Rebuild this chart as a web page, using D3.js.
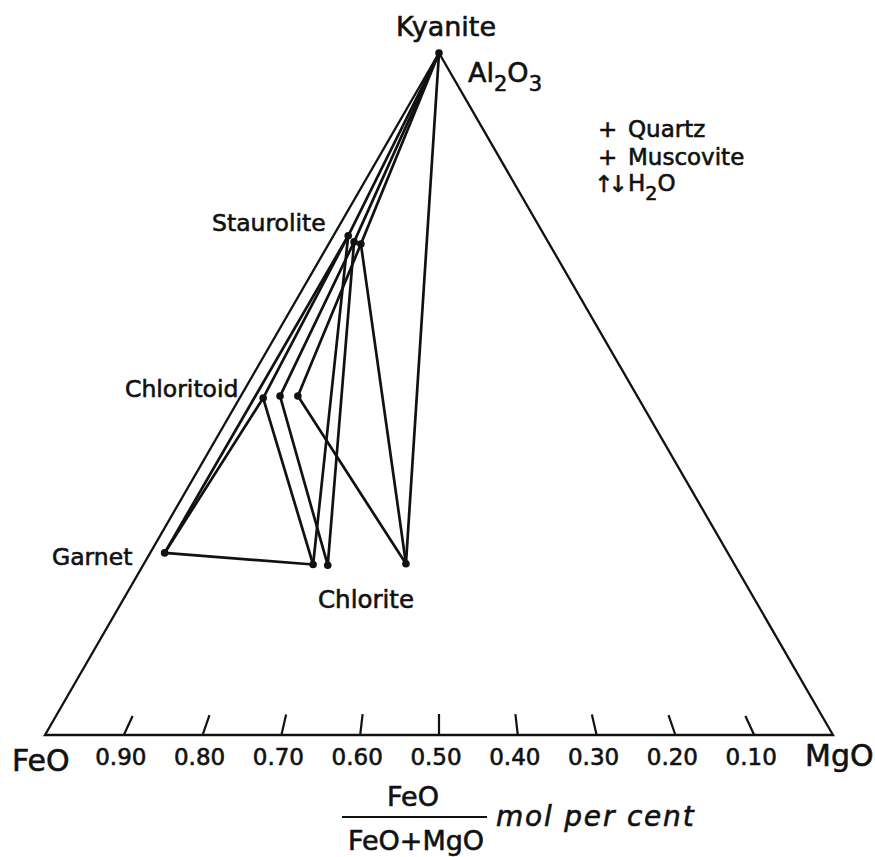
<!DOCTYPE html>
<html>
<head>
<meta charset="utf-8">
<script src="https://cdn.jsdelivr.net/npm/d3@7"></script>
<style>
  html, body { margin: 0; padding: 0; background: #fff; }
  svg { display: block; }
  text { font-family: "DejaVu Sans", sans-serif; fill: #111; stroke: #111; stroke-width: 0.6px; }
</style>
</head>
<body>
<svg id="chart" width="875" height="857"></svg>
<script>
// AFM projection: FeO/(FeO+MgO) along the base, Al2O3 towards the apex
const phases   = ["Ky", "Grt", "St1", "St2", "St3", "Ctd1", "Ctd2", "Ctd3", "Chl1", "Chl2", "Chl3"];
const feRatio  = [0.50, 0.975, 0.930, 0.889, 0.854, 0.941, 0.901, 0.856, 0.713, 0.688, 0.556];
const alFrac   = [1.00, 0.267, 0.732, 0.723, 0.720, 0.494, 0.497, 0.497, 0.250, 0.249, 0.251];

// tie lines between coexisting phases
const tieFrom = ["Ky",  "Ky",  "Ky",  "Ky",   "Grt",  "Grt", "Grt",  "Ctd1", "Ctd1", "St1",  "Ctd2", "Ctd2", "St2",  "Ctd3", "Ctd3", "St3"];
const tieTo   = ["St1", "St2", "St3", "Chl3", "Ctd1", "St1", "Chl1", "St1",  "Chl1", "Chl1", "St2",  "Chl2", "Chl2", "St3",  "Chl3", "Chl3"];

const tickValues = [0.90, 0.80, 0.70, 0.60, 0.50, 0.40, 0.30, 0.20, 0.10];
const tickLabels = ["0.90", "0.80", "0.70", "0.60", "0.50", "0.40", "0.30", "0.20", "0.10"];

const svg = d3.select("#chart");

const x = d3.scaleLinear().domain([1, 0]).range([45, 833]);   // FeO/(FeO+MgO) on the base
const y = d3.scaleLinear().domain([0, 1]).range([735, 53]);   // Al2O3 fraction
const apexX = x(0.5);

// projected position of a composition
function pos(r, a) {
  return [apexX + (1 - a) * (x(r) - apexX), y(a)];
}

const pts = {};
phases.forEach((p, i) => { pts[p] = pos(feRatio[i], alFrac[i]); });

// triangle outline
const corners = [pos(1, 0), pos(0.5, 1), pos(0, 0)];
svg.append("path")
  .attr("d", d3.line()(corners) + "Z")
  .attr("fill", "none").attr("stroke", "#111").attr("stroke-width", 2.3)
  .attr("stroke-linejoin", "miter");

// ticks on the base, pointing at the apex
const tickLen = 21;
function tickEnd(d) {
  const dx = apexX - x(d), dy = y(1) - y(0), L = Math.hypot(dx, dy);
  return [x(d) + dx / L * tickLen, y(0) + dy / L * tickLen];
}
svg.selectAll("line.tick").data(tickValues).join("line")
  .attr("class", "tick")
  .attr("x1", d => x(d)).attr("y1", y(0))
  .attr("x2", d => tickEnd(d)[0]).attr("y2", d => tickEnd(d)[1])
  .attr("stroke", "#111").attr("stroke-width", 2.2);

svg.selectAll("text.ticklab").data(tickValues).join("text")
  .attr("class", "ticklab")
  .attr("x", d => x(d) - 3).attr("y", 765)
  .attr("text-anchor", "middle").attr("font-size", 23)
  .text((d, i) => tickLabels[i]);

// tie lines
svg.selectAll("line.tie").data(tieFrom.map((f, i) => [f, tieTo[i]])).join("line")
  .attr("class", "tie")
  .attr("x1", d => pts[d[0]][0]).attr("y1", d => pts[d[0]][1])
  .attr("x2", d => pts[d[1]][0]).attr("y2", d => pts[d[1]][1])
  .attr("stroke", "#111").attr("stroke-width", 2.7).attr("stroke-linecap", "round");

// phase compositions
svg.selectAll("circle.phase").data(phases).join("circle")
  .attr("class", "phase")
  .attr("cx", d => pts[d][0]).attr("cy", d => pts[d][1])
  .attr("r", 3.8).attr("fill", "#111");

// phase names
const lab = svg.append("g").attr("font-size", 23.5);
lab.append("text").attr("x", 446).attr("y", 36).attr("text-anchor", "middle").attr("font-size", 27).text("Kyanite");
lab.append("text").attr("x", 212).attr("y", 231).text("Staurolite");
lab.append("text").attr("x", 125).attr("y", 397).text("Chloritoid");
lab.append("text").attr("x", 52).attr("y", 565).text("Garnet");
lab.append("text").attr("x", 318).attr("y", 608).attr("font-size", 24.5).text("Chlorite");

// Al2O3 corner label
const al = svg.append("text").attr("x", 468).attr("y", 82).attr("font-size", 27);
al.append("tspan").text("Al");
al.append("tspan").attr("font-size", 21).attr("dy", 9).text("2");
al.append("tspan").attr("dy", -9).text("O");
al.append("tspan").attr("font-size", 21).attr("dy", 9).text("3");

// additional phases note
const note = svg.append("g").attr("font-size", 23);
note.append("text").attr("x", 598).attr("y", 137).text("+");
note.append("text").attr("x", 628).attr("y", 137).text("Quartz");
note.append("text").attr("x", 598).attr("y", 165).text("+");
note.append("text").attr("x", 628).attr("y", 165).text("Muscovite");
note.append("text").attr("x", 594).attr("y", 192).attr("font-size", 23).attr("letter-spacing", -5).text("↑↓");
const h2o = note.append("text").attr("x", 628).attr("y", 191);
h2o.append("tspan").text("H");
h2o.append("tspan").attr("font-size", 19).attr("dy", 9).text("2");
h2o.append("tspan").attr("dy", -9).text("O");

// end members of the base
svg.append("text").attr("x", 12).attr("y", 771).attr("font-size", 30).text("FeO");
svg.append("text").attr("x", 805).attr("y", 766).attr("font-size", 30).text("MgO");

// axis title: FeO / (FeO+MgO) mol per cent
svg.append("text").attr("x", 413).attr("y", 806).attr("text-anchor", "middle").attr("font-size", 27).text("FeO");
svg.append("line").attr("x1", 342).attr("x2", 487).attr("y1", 817).attr("y2", 817)
  .attr("stroke", "#111").attr("stroke-width", 2.2);
svg.append("text").attr("x", 416).attr("y", 850).attr("text-anchor", "middle").attr("font-size", 27).text("FeO+MgO");
svg.append("text").attr("x", 496).attr("y", 826).attr("font-size", 28).attr("font-style", "italic")
  .attr("letter-spacing", 1.8).text("mol per cent");
</script>
</body>
</html>
